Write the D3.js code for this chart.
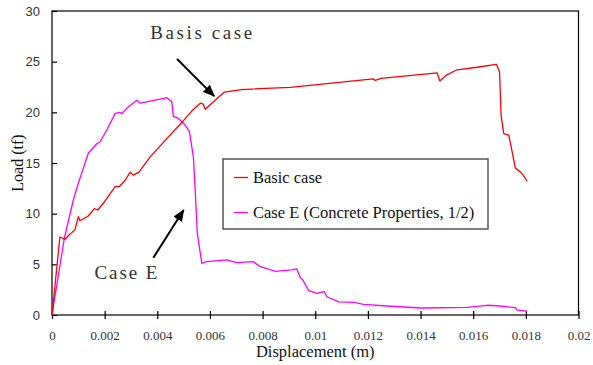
<!DOCTYPE html>
<html>
<head>
<meta charset="utf-8">
<script src="https://cdn.jsdelivr.net/npm/d3@7"></script>
<style>
  html, body { margin: 0; padding: 0; background: #fff; }
  svg { display: block; }
</style>
</head>
<body>
<svg id="chart" width="593" height="365"></svg>
<script>
// Load–displacement response, basic case
const basicX = [0, 0.0003, 0.0005, 0.00065, 0.00087, 0.001, 0.00106, 0.00138, 0.00161, 0.00174,
  0.002, 0.0024, 0.00255, 0.00278, 0.00297, 0.00309, 0.0033, 0.00373, 0.00436, 0.005,
  0.0053, 0.00563, 0.00575, 0.00582, 0.0062, 0.00655, 0.0072, 0.00905, 0.0122, 0.01228,
  0.0125, 0.01463, 0.01473, 0.015, 0.01539, 0.01615, 0.01688, 0.017, 0.01706, 0.01716,
  0.01735, 0.01748, 0.0176, 0.0178, 0.0179, 0.01805];
const basicY = [0, 7.7, 7.47, 7.9, 8.4, 9.7, 9.3, 9.77, 10.5, 10.36,
  11.2, 12.7, 12.66, 13.3, 14.1, 13.8, 14.1, 15.6, 17.4, 19.2,
  20.1, 20.9, 20.8, 20.3, 21.2, 22.0, 22.25, 22.47, 23.3, 23.15,
  23.35, 23.9, 23.1, 23.7, 24.2, 24.45, 24.74, 24.0, 19.7, 17.9,
  17.76, 16.1, 14.5, 14.1, 13.8, 13.2];

// Load–displacement response, case E (concrete properties halved)
const caseEX = [0, 0.00047, 0.00081, 0.001, 0.00138, 0.0017, 0.00183, 0.00208, 0.0024, 0.00258,
  0.00265, 0.00284, 0.00322, 0.00335, 0.0043, 0.00436, 0.00455, 0.00461, 0.0048, 0.00506,
  0.00522, 0.00531, 0.00537, 0.00544, 0.00552, 0.00569, 0.00588, 0.00664, 0.00702, 0.00765,
  0.00791, 0.0085, 0.0091, 0.0093, 0.00943, 0.00953, 0.00975, 0.01006, 0.01034, 0.01044,
  0.01089, 0.01146, 0.01184, 0.01273, 0.014, 0.01577, 0.01653, 0.01703, 0.0176, 0.01767,
  0.01805];
const caseEY = [0, 7.6, 11.35, 13.0, 15.96, 16.9, 17.1, 18.26, 19.9, 20.0,
  19.85, 20.4, 21.2, 20.9, 21.4, 21.45, 21.05, 19.6, 19.4, 18.75,
  18.1, 16.6, 15.6, 12.3, 8.06, 5.1, 5.26, 5.43, 5.16, 5.26,
  4.77, 4.3, 4.45, 4.55, 3.7, 3.45, 2.4, 2.14, 2.3, 1.8,
  1.3, 1.25, 1.05, 0.89, 0.69, 0.76, 0.96, 0.89, 0.72, 0.49,
  0.39];

const xTicks = [0, 0.002, 0.004, 0.006, 0.008, 0.01, 0.012, 0.014, 0.016, 0.018, 0.02];
const yTicks = [0, 5, 10, 15, 20, 25, 30];
const seriesNames = ["Basic case", "Case E (Concrete Properties, 1/2)"];
const seriesColors = ["#ff0000", "#ff00ff"];

const svg = d3.select("#chart");
const margin = { left: 52, top: 11, right: 14.5, bottom: 50 };
const W = 593, H = 365;
const pw = W - margin.left - margin.right;
const ph = H - margin.top - margin.bottom;

const x = d3.scaleLinear().domain([0, 0.02]).range([0, pw]);
const y = d3.scaleLinear().domain([0, 30]).range([ph, 0]);

const serif = "Liberation Serif, Times New Roman, serif";
const g = svg.append("g").attr("transform", `translate(${margin.left},${margin.top})`);

// plot frame
g.append("rect")
  .attr("x", 0).attr("y", 0).attr("width", pw).attr("height", ph)
  .attr("fill", "none").attr("stroke", "#000").attr("stroke-width", 1.2);

// y axis ticks (cross the axis line)
const yAxis = d3.axisLeft(y).tickValues(yTicks).tickSizeInner(5).tickSizeOuter(0).tickPadding(7)
  .tickFormat(d3.format("d"));
const ya = g.append("g").call(yAxis);
ya.select(".domain").remove();
ya.selectAll(".tick line").attr("x2", 5).attr("stroke", "#000").attr("stroke-width", 1.2);
ya.selectAll(".tick text")
  .attr("font-family", "Liberation Sans, Arial, sans-serif")
  .attr("font-size", 13).attr("fill", "#333");

// x axis ticks
const xFmt = d => d === 0 ? "0" : String(+d.toFixed(3));
const xAxis = d3.axisBottom(x).tickValues(xTicks).tickSizeInner(4).tickSizeOuter(0).tickPadding(12)
  .tickFormat(xFmt);
const xa = g.append("g").attr("transform", `translate(0,${ph})`).call(xAxis);
xa.select(".domain").remove();
xa.selectAll(".tick line").attr("y1", -4).attr("stroke", "#000").attr("stroke-width", 1.2);
xa.selectAll(".tick text")
  .attr("font-family", serif)
  .attr("font-size", 13).attr("fill", "#333");

// axis titles
svg.append("text")
  .attr("x", margin.left + x(0.01)).attr("y", 357)
  .attr("text-anchor", "middle")
  .attr("font-family", serif)
  .attr("font-size", 16.5).attr("fill", "#111")
  .text("Displacement (m)");
svg.append("text")
  .attr("transform", `translate(23,${margin.top + y(15)}) rotate(-90)`)
  .attr("text-anchor", "middle")
  .attr("font-family", serif)
  .attr("font-size", 16).attr("fill", "#111")
  .text("Load (tf)");

// curves
const line = d3.line().x(d => x(d[0])).y(d => y(d[1]));
const series = [
  d3.zip(basicX, basicY),
  d3.zip(caseEX, caseEY)
];
// draw case E first so the basic case sits on top
[1, 0].forEach(i => {
  g.append("path")
    .datum(series[i])
    .attr("d", line)
    .attr("fill", "none")
    .attr("stroke", seriesColors[i])
    .attr("stroke-width", 1.3)
    .attr("stroke-linejoin", "round");
});

// annotation arrows
const defs = svg.append("defs");
defs.append("marker")
  .attr("id", "head").attr("viewBox", "0 0 12 10")
  .attr("refX", 11).attr("refY", 5)
  .attr("markerWidth", 12).attr("markerHeight", 10)
  .attr("markerUnits", "userSpaceOnUse")
  .attr("orient", "auto")
  .append("path").attr("d", "M0,0 L12,5 L0,10 Z").attr("fill", "#000");

const arrows = [
  { from: [0.00475, 25.26], to: [0.00616, 21.6] },
  { from: [0.00385, 5.65], to: [0.00500, 10.36] }
];
arrows.forEach(a => {
  g.append("line")
    .attr("x1", x(a.from[0])).attr("y1", y(a.from[1]))
    .attr("x2", x(a.to[0])).attr("y2", y(a.to[1]))
    .attr("stroke", "#000").attr("stroke-width", 2)
    .attr("marker-end", "url(#head)");
});

const notes = [
  { text: "Basis case", at: [0.00567, 27.9], width: 102 },
  { text: "Case E", at: [0.00281, 4.2], width: 63 }
];
notes.forEach(n => {
  g.append("text")
    .attr("x", x(n.at[0]) - n.width / 2).attr("y", y(n.at[1]))
    .attr("dy", "0.35em")
    .attr("font-family", serif)
    .attr("font-size", 19).attr("fill", "#333")
    .attr("textLength", n.width).attr("lengthAdjust", "spacing")
    .text(n.text);
});

// legend
const lg = g.append("g").attr("transform", `translate(${223 - margin.left},${159 - margin.top})`);
lg.append("rect")
  .attr("width", 265).attr("height", 70)
  .attr("fill", "#fff").attr("stroke", "#555").attr("stroke-width", 1.5);
seriesNames.forEach((name, i) => {
  const cy = 18.5 + i * 35;
  lg.append("line")
    .attr("x1", 11).attr("x2", 25).attr("y1", cy).attr("y2", cy)
    .attr("stroke", seriesColors[i]).attr("stroke-width", 1.3);
  lg.append("text")
    .attr("x", 30).attr("y", cy).attr("dy", "0.33em")
    .attr("font-family", serif)
    .attr("font-size", 16.5).attr("fill", "#111")
    .text(name);
});
</script>
</body>
</html>
